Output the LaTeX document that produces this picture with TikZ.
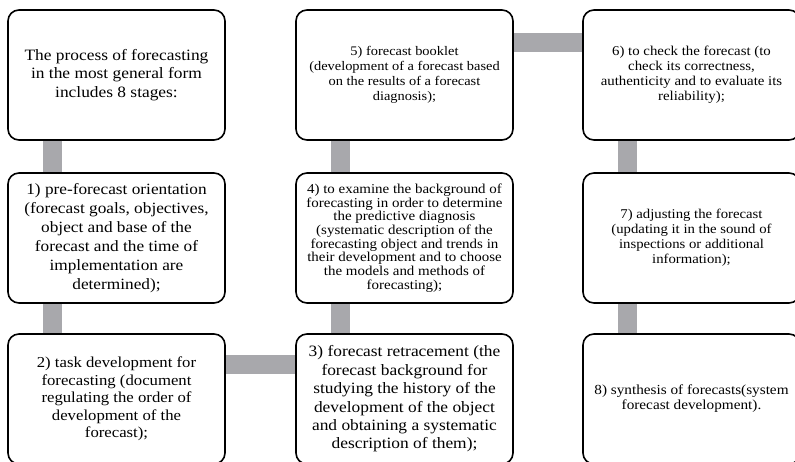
\documentclass[tikz,border=0pt]{standalone}
\usepackage{fontspec}
\setmainfont[FakeStretch=1.1]{Liberation Serif}
\definecolor{bargray}{RGB}{168,168,172}
\begin{document}
\begin{tikzpicture}[x=1pt,y=-1pt,
  stage/.style={draw=black, line width=1.6pt, rounded corners=11pt, fill=white,
    minimum width=217pt, minimum height=130pt, align=center, inner sep=0pt},
  bar/.style={draw=bargray, line width=19pt, line cap=butt}]
\useasboundingbox (0,0) rectangle (795,461);
\clip (0,0) rectangle (795,461);

% left column
\node[stage, font=\fontsize{15.8}{18.5}\selectfont] (intro) at (116.5,75)
  {The process of forecasting\\in the most general form\\includes 8 stages:};
\node[stage, font=\fontsize{15.7}{19}\selectfont] (s1) at (116.5,238)
  {1) pre-forecast orientation\\(forecast goals, objectives,\\object and base of the\\forecast and the time of\\implementation are\\determined);};
\node[stage, font=\fontsize{15.2}{17.5}\selectfont] (s2) at (116.5,399)
  {2) task development for\\forecasting (document\\regulating the order of\\development of the\\forecast);};

% middle column
\node[stage, font=\fontsize{13.1}{15}\selectfont] (s5) at (404.5,75)
  {5) forecast booklet\\(development of a forecast based\\on the results of a forecast\\diagnosis);};
\node[stage, font=\fontsize{13.6}{13.7}\selectfont] (s4) at (404.5,238)
  {4) to examine the background of\\forecasting in order to determine\\the predictive diagnosis\\(systematic description of the\\forecasting object and trends in\\their development and to choose\\the models and methods of\\forecasting);};
\node[stage, font=\fontsize{15.8}{18.4}\selectfont] (s3) at (404.5,399)
  {3) forecast retracement (the\\forecast background for\\studying the history of the\\development of the object\\and obtaining a systematic\\description of them);};

% right column
\node[stage, font=\fontsize{13.5}{15}\selectfont] (s6) at (691.5,75)
  {6) to check the forecast (to\\check its correctness,\\authenticity and to evaluate its\\reliability);};
\node[stage, font=\fontsize{13.4}{15}\selectfont] (s7) at (691.5,238)
  {7) adjusting the forecast\\(updating it in the sound of\\inspections or additional\\information);};
\node[stage, font=\fontsize{13.85}{15}\selectfont] (s8) at (691.5,399)
  {8) synthesis of forecasts(system\\forecast development).};

% connecting bars
\draw[bar] ([xshift=-64pt]intro.south) -- ([xshift=-64pt]s1.north);
\draw[bar] ([xshift=-64pt]s1.south) -- ([xshift=-64pt]s2.north);
\draw[bar] ([yshift=35pt]s2.east) -- ([yshift=35pt]s3.west);
\draw[bar] ([xshift=-64pt]s3.north) -- ([xshift=-64pt]s4.south);
\draw[bar] ([xshift=-64pt]s4.north) -- ([xshift=-64pt]s5.south);
\draw[bar] ([yshift=32.5pt]s5.east) -- ([yshift=32.5pt]s6.west);
\draw[bar] ([xshift=-64pt]s6.south) -- ([xshift=-64pt]s7.north);
\draw[bar] ([xshift=-64pt]s7.south) -- ([xshift=-64pt]s8.north);
\end{tikzpicture}
\end{document}
